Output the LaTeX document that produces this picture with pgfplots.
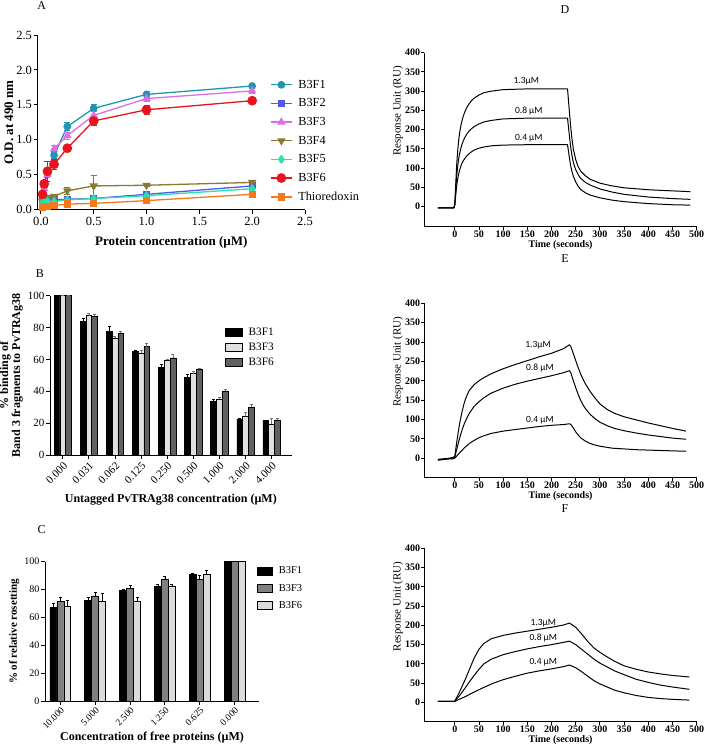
\documentclass[border=0pt]{standalone}
\usepackage{fontspec}
\setmainfont{Liberation Serif}
\newfontfamily\calib{Carlito}
\usepackage{pgfplots}
\usepackage{pgfplotstable}
\pgfplotsset{compat=1.18}
\newcommand\fs[1]{\fontsize{#1}{#1}\selectfont}
\definecolor{cF1}{RGB}{30,150,175}
\definecolor{cF2}{RGB}{80,90,230}
\definecolor{cF3}{RGB}{220,110,230}
\definecolor{cF4}{RGB}{140,120,50}
\definecolor{cF5}{RGB}{40,225,170}
\definecolor{cF6}{RGB}{230,20,30}
\definecolor{cTh}{RGB}{245,120,30}
\pgfplotsset{
  gp/.style={scale only axis, axis x line*=bottom, axis y line*=left,
    axis line style={-, line width=0.9pt}, every tick/.style={black, line width=0.9pt},
    tick align=outside, major tick length=4pt, enlargelimits=false, clip=false,
    /pgf/number format/assume math mode=true, tick label style={inner sep=1.5pt}},
  sprerr/.style={/pgfplots/error bars/y dir=both, /pgfplots/error bars/y explicit,
    /pgfplots/error bars/error bar style={line width=0.9pt},
    /pgfplots/error bars/error mark options={rotate=90, mark size=3pt, line width=0.9pt}},
  barerr/.style={/pgfplots/error bars/y dir=plus, /pgfplots/error bars/y explicit,
    /pgfplots/error bars/error bar style={line width=0.7pt, #1},
    /pgfplots/error bars/error mark options={rotate=90, mark size=1.5pt, line width=0.7pt, #1}},
  spr/.style={gp, width=272.4pt, xmin=-63, xmax=500, ymax=400,
    xtick={0,50,...,500}, ytick={0,50,...,400},
    major tick length=3pt,
    tick label style={font=\bfseries\fs{10}, inner sep=1pt},
    xlabel={Time (seconds)}, ylabel={Response Unit (RU)},
    xlabel style={font=\bfseries\fs{10}, yshift=2pt},
    every axis y label/.style={at={(ticklabel cs:0.665)}, rotate=90, anchor=near ticklabel, font=\fs{11}, inner sep=1pt}},
  crv/.style={black, line width=1pt, line join=round},
}
\pgfplotstableread{
x f1 e1 f2 e2 f3 e3 f4 e4 f5 e5 f6 e6 th et
0.015625 0.20 0.02 0.12 0.01 0.18 0.03 0.13 0.02 0.10 0.01 0.22 0.04 0.04 0.01
0.03125 0.33 0.03 0.12 0.01 0.30 0.03 0.15 0.02 0.11 0.01 0.37 0.05 0.05 0.01
0.0625 0.52 0.04 0.13 0.01 0.50 0.04 0.17 0.03 0.12 0.01 0.55 0.14 0.05 0.01
0.125 0.78 0.05 0.14 0.02 0.87 0.05 0.19 0.03 0.12 0.01 0.65 0.07 0.06 0.01
0.25 1.19 0.06 0.15 0.02 1.06 0.05 0.27 0.05 0.14 0.02 0.88 0.03 0.08 0.01
0.5 1.45 0.05 0.16 0.02 1.35 0.05 0.34 0.15 0.16 0.02 1.27 0.06 0.09 0.01
1 1.65 0.04 0.22 0.02 1.59 0.04 0.35 0.02 0.20 0.02 1.43 0.06 0.13 0.02
2 1.77 0.02 0.34 0.05 1.70 0.03 0.39 0.02 0.30 0.03 1.56 0.04 0.22 0.02
}\tabA
\pgfplotstableread{
x f1 e1 f3 e3 f6 e6
0 100 0 100 0 100 0
1 84 1.5 87.5 1.5 87 1
2 77.5 3 73.5 1 76.5 1
3 65 0.5 64 1.5 68 2
4 55 2 59.5 0.5 61 2
5 48.5 2 51 1.5 54 0.5
6 33.5 1.5 35 1.5 40 1
7 22.5 0.5 24.5 2.5 30 1.5
8 21.5 0.3 19.5 3.5 22 1
}\tabB
\pgfplotstableread{
x f1 e1 f3 e3 f6 e6
0 67 3 71.5 3 68 4
1 72 2.5 75.5 2.5 71.5 6
2 79.5 1 81 2 71.5 3
3 82 1.5 87.5 2 82 1.5
4 91 0.5 87.5 2.5 91 3
5 100 0 100 0 100 0
}\tabC
\begin{document}
\begin{tikzpicture}[x=1pt,y=1pt]
\useasboundingbox (0,0) rectangle (713,750);
\node[font=\fs{12}] at (41.7,744) {A};
\node[font=\fs{12}] at (40,476) {B};
\node[font=\fs{12}] at (41.7,220) {C};
\node[font=\fs{12}] at (565,740) {D};
\node[font=\fs{12}] at (565,491) {E};
\node[font=\fs{12}] at (565,241) {F};

% ---------- A ----------
\begin{axis}[gp, at={(37.7pt,715pt)}, anchor=north west, width=267.3pt, height=174.7pt,
  xmin=-0.03, xmax=2.5, ymin=0, ymax=2.5,
  xtick={0,0.5,1,1.5,2,2.5}, xticklabels={0.0,0.5,1.0,1.5,2.0,2.5},
  ytick={0,0.5,1,1.5,2,2.5}, yticklabels={0.0,0.5,1.0,1.5,2.0,2.5},
  tick label style={font=\fs{12.5}},
  xticklabel style={yshift=-2pt},
  xlabel={Protein concentration (µM)}, ylabel={O.D. at 490 nm},
  label style={font=\bfseries\fs{13}},
  xlabel style={yshift=-6pt},
  ylabel style={yshift=-2pt},
  legend cell align=left,
  legend style={at={(0.868,0.755)}, anchor=north west, draw=none, fill=none,
    font=\fs{12.3}, row sep=5pt, column sep=3.5pt, inner sep=0pt, nodes={inner sep=2pt}},
  legend image code/.code={\draw[mark repeat=2, mark phase=2, #1] plot coordinates {(0pt,0pt) (10.8pt,0pt) (21.6pt,0pt)};},
]
\addplot[cF1, line width=1.3pt, mark=*, mark size=3.2pt, sprerr] table[x=x, y=f1, y error=e1] {\tabA};
\addlegendentry{B3F1}
\addplot[cF2, line width=1.3pt, mark=square*, mark size=2.8pt, sprerr] table[x=x, y=f2, y error=e2] {\tabA};
\addlegendentry{B3F2}
\addplot[cF3, line width=1.3pt, mark=triangle*, mark size=3.6pt, sprerr] table[x=x, y=f3, y error=e3] {\tabA};
\addlegendentry{B3F3}
\addplot[cF4, line width=1.3pt, mark=triangle*, mark size=3.6pt, mark options={rotate=180}, sprerr] table[x=x, y=f4, y error=e4] {\tabA};
\addlegendentry{B3F4}
\addplot[cF5, line width=1.3pt, mark=diamond*, mark size=3.6pt, sprerr] table[x=x, y=f5, y error=e5] {\tabA};
\addlegendentry{B3F5}
\addplot[cF6, line width=1.3pt, mark=*, mark size=4.2pt, sprerr] table[x=x, y=f6, y error=e6] {\tabA};
\addlegendentry{B3F6}
\addplot[cTh, line width=1.3pt, mark=square*, mark size=3pt, sprerr] table[x=x, y=th, y error=et] {\tabA};
\addlegendentry{Thioredoxin}
\end{axis}

% ---------- B ----------
\begin{axis}[gp, at={(50pt,454.3pt)}, anchor=north west, width=241.7pt, height=159.3pt,
  xmin=-0.49, xmax=8.77, ymin=0, ymax=100, ybar=0pt, bar width=0.22,
  ytick={0,20,...,100}, xtick={0,...,8},
  xticklabels={0.000,0.031,0.062,0.125,0.250,0.500,1.000,2.000,4.000},
  yticklabel style={font=\fs{11}},
  xticklabel style={font=\fs{11}, rotate=45, anchor=north east},
  xlabel={Untagged PvTRAg38 concentration (µM)},
  ylabel={\% binding of\\Band 3 fragments to PvTRAg38},
  label style={font=\bfseries\fs{12}, align=center},
  xlabel style={yshift=-4pt},
  legend cell align=left,
  legend style={at={(0.724,0.81)}, anchor=north west, draw=none, fill=none,
    font=\fs{11.3}, row sep=1.8pt, column sep=4pt, inner sep=0pt, nodes={inner sep=2pt}},
  legend image code/.code={\draw[#1, line width=0.8pt] (0pt,-4pt) rectangle (16.7pt,4pt);},
]
\addplot[fill=black, draw=black, line width=0.6pt, barerr=black] table[x=x, y=f1, y error=e1] {\tabB};
\addlegendentry{B3F1}
\addplot[fill=black!12, draw=black, line width=0.6pt, barerr=black!55] table[x=x, y=f3, y error=e3] {\tabB};
\addlegendentry{B3F3}
\addplot[fill=black!62, draw=black, line width=0.6pt, barerr=black!55] table[x=x, y=f6, y error=e6] {\tabB};
\addlegendentry{B3F6}
\end{axis}

% ---------- C ----------
\begin{axis}[gp, at={(45pt,188.3pt)}, anchor=north west, width=214pt, height=139.3pt,
  xmin=-0.44, xmax=5.7, ymin=0, ymax=100, ybar=0pt, bar width=0.2,
  ytick={0,20,...,100}, xtick={0,...,5},
  xticklabels={10.000,5.000,2.500,1.250,0.625,0.000},
  yticklabel style={font=\fs{10}},
  xticklabel style={font=\fs{9.5}, rotate=45, anchor=north east, inner sep=1pt},
  xlabel={Concentration of free proteins (µM)},
  ylabel={\% of relative rosetting},
  xlabel style={font=\bfseries\fs{12}, inner sep=1pt},
  ylabel style={font=\bfseries\fs{11}},
  legend cell align=left,
  legend style={at={(0.99,0.98)}, anchor=north west, draw=none, fill=none,
    font=\fs{10.5}, row sep=5pt, column sep=4pt, inner sep=0pt, nodes={inner sep=2pt}},
  legend image code/.code={\draw[#1, line width=0.8pt] (0pt,-4pt) rectangle (15pt,4pt);},
]
\addplot[fill=black, draw=black, line width=0.6pt, barerr=black] table[x=x, y=f1, y error=e1] {\tabC};
\addlegendentry{B3F1}
\addplot[fill=black!50, draw=black, line width=0.6pt, barerr=black] table[x=x, y=f3, y error=e3] {\tabC};
\addlegendentry{B3F3}
\addplot[fill=black!14, draw=black, line width=0.6pt, barerr=black] table[x=x, y=f6, y error=e6] {\tabC};
\addlegendentry{B3F6}
\end{axis}

% ---------- D ----------
\begin{axis}[spr, at={(424.3pt,697.3pt)}, anchor=north west, height=174pt, ymin=-52]
\addplot[crv] coordinates {(-35,-3)(-2,-3)(0,5)(2,60)(4,110)(6,145)(8,172)(10,192)(13,213)(16,229)(20,244)(25,258)(30,268)(35,276)(40,282)(50,290)(60,296)(75,300)(100,304)(125,305)(150,306)(233,306)(236,260)(239,215)(242,178)(245,150)(250,122)(255,104)(260,93)(270,80)(280,71)(300,61)(325,54)(350,49)(400,44)(450,41)(487,39)};
\addplot[crv] coordinates {(-35,-3)(-2,-3)(0,5)(2,45)(4,80)(6,105)(8,124)(10,138)(13,154)(16,166)(20,178)(25,189)(30,197)(35,203)(40,208)(50,215)(60,220)(75,224)(100,228)(125,229)(150,230)(233,230)(236,195)(239,160)(242,134)(245,115)(250,96)(255,83)(260,74)(270,63)(280,56)(300,46)(325,38)(350,32)(400,25)(450,21)(487,19)};
\addplot[crv] coordinates {(-35,-3)(-2,-3)(0,5)(2,30)(4,55)(6,72)(8,85)(10,95)(13,107)(16,116)(20,124)(25,132)(30,138)(35,143)(40,147)(50,152)(60,155)(75,158)(100,160)(150,161)(233,161)(236,135)(239,110)(242,92)(245,79)(250,64)(255,53)(260,45)(270,36)(280,30)(300,23)(325,17)(350,13)(400,8)(450,5)(487,4)};
\node[font=\calib\fs{9.5}] at (axis cs:148,326) {1.3µM};
\node[font=\calib\fs{9.5}] at (axis cs:153,248) {0.8 µM};
\node[font=\calib\fs{9.5}] at (axis cs:153,177) {0.4 µM};
\end{axis}

% ---------- E ----------
\begin{axis}[spr, at={(424.3pt,446.7pt)}, anchor=north west, height=174.3pt, ymin=-50]
\addplot[crv] coordinates {(-35,-5)(-20,-3)(-5,0)(0,5)(5,50)(10,90)(15,120)(20,145)(25,162)(30,175)(40,190)(50,200)(60,208)(75,218)(100,231)(125,242)(150,252)(175,262)(200,271)(225,283)(237,293)(240,288)(245,270)(250,252)(255,234)(260,218)(265,204)(270,192)(280,172)(290,155)(300,140)(315,126)(330,116)(350,107)(375,99)(400,91)(425,84)(450,77)(478,70)};
\addplot[crv] coordinates {(-35,-4)(-20,-2)(-5,2)(0,3)(5,28)(10,52)(15,73)(20,90)(25,104)(30,116)(40,134)(50,146)(60,156)(75,168)(100,181)(125,191)(150,199)(175,206)(200,213)(225,221)(237,226)(240,220)(245,200)(250,182)(255,165)(260,150)(265,138)(270,128)(280,113)(290,102)(300,93)(315,84)(330,77)(350,71)(375,65)(400,60)(425,56)(450,52)(478,49)};
\addplot[crv] coordinates {(-35,-3)(-20,-1)(-5,-2)(0,0)(10,14)(20,27)(30,38)(40,46)(50,53)(60,58)(75,64)(100,70)(125,74)(150,78)(175,82)(200,85)(225,87)(237,89)(240,87)(245,78)(250,68)(255,60)(260,53)(270,44)(280,38)(290,34)(300,31)(325,26)(350,24)(375,22)(400,21)(450,19)(478,18)};
\node[font=\calib\fs{9.5}] at (axis cs:172,292) {1.3µM};
\node[font=\calib\fs{9.5}] at (axis cs:176,232) {0.8 µM};
\node[font=\calib\fs{9.5}] at (axis cs:176,97) {0.4 µM};
\end{axis}

% ---------- F ----------
\begin{axis}[spr, at={(424.3pt,201.7pt)}, anchor=north west, height=173.4pt, ymin=-50]
\addplot[crv] coordinates {(-35,3)(0,3)(10,28)(20,55)(30,85)(40,115)(50,138)(60,153)(75,165)(100,174)(125,180)(150,185)(175,190)(200,195)(225,201)(237,206)(250,195)(262,178)(275,158)(287,142)(300,130)(315,118)(330,107)(350,95)(375,86)(400,79)(425,74)(450,70)(485,66)};
\addplot[crv] coordinates {(-35,3)(0,3)(10,18)(20,35)(30,53)(40,70)(50,86)(60,100)(75,112)(100,124)(125,132)(150,139)(175,145)(200,150)(225,156)(237,159)(250,150)(262,138)(275,125)(287,113)(300,102)(315,92)(330,82)(350,72)(375,60)(400,52)(425,45)(450,40)(485,34)};
\addplot[crv] coordinates {(-35,3)(0,3)(20,14)(40,27)(60,39)(80,50)(100,59)(125,68)(150,76)(175,82)(200,87)(225,93)(237,97)(250,90)(262,80)(275,68)(287,57)(300,48)(315,40)(330,32)(350,25)(375,18)(400,13)(425,10)(450,8)(485,6)};
\node[font=\calib\fs{9.5}] at (axis cs:183,205) {1.3µM};
\node[font=\calib\fs{9.5}] at (axis cs:183,168) {0.8 µM};
\node[font=\calib\fs{9.5}] at (axis cs:183,105) {0.4 µM};
\end{axis}
\end{tikzpicture}
\end{document}
